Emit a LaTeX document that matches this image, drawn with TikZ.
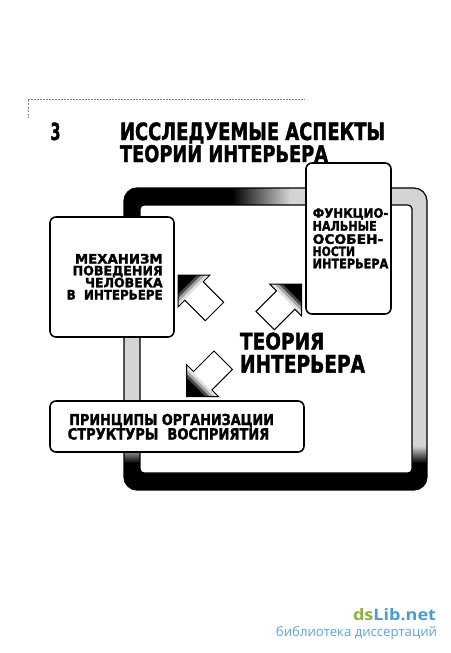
\documentclass[tikz,border=0pt]{standalone}
\usepackage{fontspec}
\usepackage{graphicx}
\newfontfamily\hv{DejaVu Sans}[BoldFeatures={FakeBold=1.8}]
\newfontfamily\wm{Open Sans}
\newcommand\fitln[3]{\raisebox{0pt}[#2pt][0pt]{\resizebox{#1pt}{#2pt}{\hv\bfseries #3}}}
\definecolor{dsgreen}{HTML}{8CB340}
\definecolor{dsblue}{HTML}{4B9CD3}
\definecolor{dssub}{HTML}{5FA3D8}
\newcommand\blkarrow[4]{%
  \begin{scope}[shift={(#1,#2)}, xscale=#3, yscale=#4]
    \fill[black!12] (0,0) -- (31,0) -- (0,31) -- cycle;
    \fill[black!35] (0,0) -- (27,0) -- (0,27) -- cycle;
    \fill[black!70] (0,0) -- (23,0) -- (0,23) -- cycle;
    \fill[black] (0,0) -- (19,0) -- (0,19) -- cycle;
    \draw[line width=1pt, line join=miter] (0,0) -- (32,0) -- (25.2,6.8) -- (45.7,27.3) -- (27.3,45.7) -- (6.8,25.2) -- (0,32) -- cycle;
  \end{scope}}
\tikzset{
  box/.style={draw, line width=1.6pt, fill=white, rounded corners=6pt, inner sep=0pt},
  txt/.style={inner sep=0pt, outer sep=0pt},
}
\begin{document}
\begin{tikzpicture}[x=1pt,y=-1pt]
\fill[white] (0,0) rectangle (450,653);
\useasboundingbox (0,0) rectangle (450,653);

% top rule
\draw[black!50, line width=1.2pt, dash pattern=on 2pt off 1pt] (28,99.5) -- (305,99.5);
\draw[black!45, line width=1pt, dash pattern=on 2pt off 1.5pt] (28,99.5) -- (28,118);

% title
\node[txt, anchor=base west] (num) at (50.5,140) {\fitln{10}{17.5}{3}};
\node[txt, anchor=base west] (t1) at (120,140) {\fitln{265}{17.6}{ИССЛЕДУЕМЫЕ АСПЕКТЫ}};
\node[txt, anchor=base west] (t2) at (120,162) {\fitln{208}{17}{ТЕОРИИ ИНТЕРЬЕРА}};

% frame
\begin{scope}
  \clip[rounded corners=13pt] (124,188) rectangle (427,490);
  \fill[black!17] (124,188) rectangle (427,490);
  \fill[black] (124,188) rectangle (232,232);
  \shade[left color=black, right color=black!17] (232,188) rectangle (290,206);
  \shade[top color=black!17, bottom color=black] (124,446) rectangle (427,463);
  \fill[black] (124,463) rectangle (427,490);
\end{scope}
\draw[line width=1.2pt, rounded corners=13pt] (124,188) rectangle (427,490);
\filldraw[fill=white, line width=1.2pt, rounded corners=4pt] (140,205) rectangle (412,473);

% arrows
\blkarrow{178}{275}{1}{1}
\blkarrow{301.7}{284}{-1}{1}
\blkarrow{186.7}{396.7}{1}{-1}

% boxes
\node[box, minimum width=124pt, minimum height=120pt] (mech) at (112,277) {};
\node[box, minimum width=85pt, minimum height=151pt] (func) at (348.5,238.5) {};
\node[box, minimum width=254pt, minimum height=51pt] (princ) at (177,426.5) {};

% left box text
\node[txt, anchor=base east] (m1) at (162.7,263.5) {\fitln{87.7}{9.6}{МЕХАНИЗМ}};
\node[txt, anchor=base east] (m2) at (162.7,275.3) {\fitln{90}{9.6}{ПОВЕДЕНИЯ}};
\node[txt, anchor=base east] (m3) at (162.7,287.3) {\fitln{77.7}{9.6}{ЧЕЛОВЕКА}};
\node[txt, anchor=base east] (m4) at (162.7,299.5) {\fitln{96}{9.6}{В\ \ ИНТЕРЬЕРЕ}};

% right box text
\node[txt, anchor=base west] (f1) at (312.7,217.7) {\fitln{75.6}{9.6}{ФУНКЦИО-}};
\node[txt, anchor=base west] (f2) at (312.7,230.7) {\fitln{64}{9.6}{НАЛЬНЫЕ}};
\node[txt, anchor=base west] (f3) at (312.7,243.8) {\fitln{70.6}{9.6}{ОСОБЕН-}};
\node[txt, anchor=base west] (f4) at (312.7,256) {\fitln{42.3}{9.6}{НОСТИ}};
\node[txt, anchor=base west] (f5) at (312.7,268.3) {\fitln{75.6}{9.6}{ИНТЕРЬЕРА}};

% bottom box text
\node[txt, anchor=base west] (p1) at (69.3,425) {\fitln{204.7}{11.2}{ПРИНЦИПЫ ОРГАНИЗАЦИИ}};
\node[txt, anchor=base west] (p2) at (67.7,439.5) {\fitln{201.6}{11.5}{СТРУКТУРЫ\ \ ВОСПРИЯТИЯ}};

% centre text
\node[txt, anchor=base west] (th1) at (240,349.3) {\fitln{84.3}{16.7}{ТЕОРИЯ}};
\node[txt, anchor=base west] (th2) at (240,372.7) {\fitln{125}{17.7}{ИНТЕРЬЕРА}};

% watermark
\node[txt, anchor=base east] (wm1) at (436,620) {\resizebox{83pt}{12pt}{\wm\bfseries\textcolor{dsgreen}{ds}\textcolor{dsblue}{Lib.net}}};
\node[txt, anchor=base east] (wm2) at (437,636) {\resizebox{161pt}{!}{\wm\textcolor{dssub}{библиотека диссертаций}}};
\end{tikzpicture}
\end{document}
